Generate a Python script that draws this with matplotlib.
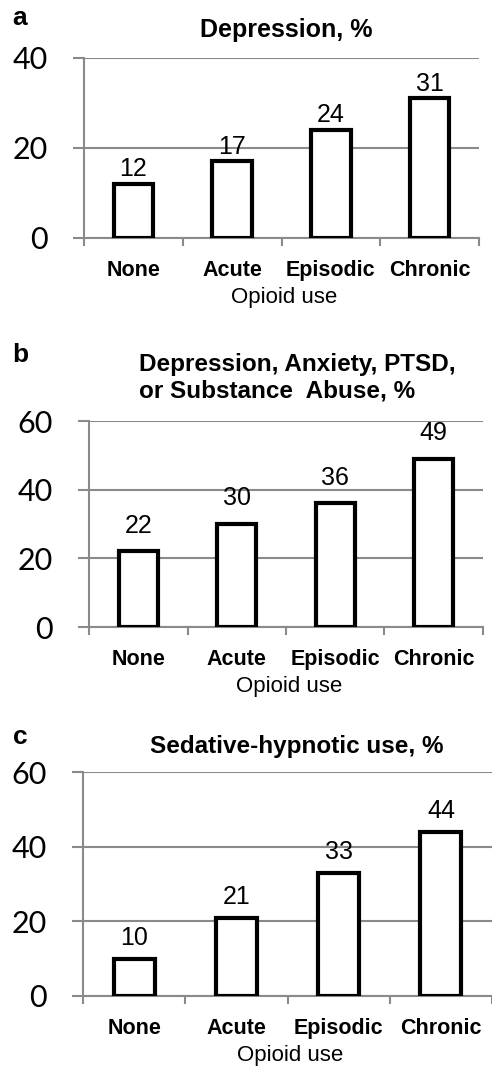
import matplotlib.pyplot as plt

# Data
categories = ["None", "Acute", "Episodic", "Chronic"]
depression = [12, 17, 24, 31]
any_mental = [22, 30, 36, 49]
sedative = [10, 21, 33, 44]

panel_letters = ["a", "b", "c"]
grid_gray = "#8a8a8a"

fig = plt.figure(figsize=(4.92, 10.7), dpi=100)

# axes boxes in figure fraction (left, bottom, width, height)
ax_a = fig.add_axes([0.1707, 0.7776, 0.803, 0.1682])
ax_b = fig.add_axes([0.1809, 0.4140, 0.8008, 0.1925])
ax_c = fig.add_axes([0.1687, 0.0692, 0.8313, 0.2093])

panels = [
    (ax_a, depression, 40, [0, 20, 40], 2),
    (ax_b, any_mental, 60, [0, 20, 40, 60], 10),
    (ax_c, sedative, 60, [0, 20, 40, 60], 6),
]

for ax, values, ymax, yticks, label_pad in panels:
    x = range(len(categories))
    bars = ax.bar(x, values, width=0.4, color="white", edgecolor="black",
                  linewidth=3, zorder=3)
    ax.bar_label(bars, labels=[str(v) for v in values], padding=label_pad,
                 fontsize=18, family="Liberation Sans")

    ax.set_xlim(-0.5, len(categories) - 0.5)
    ax.set_ylim(0, ymax)
    ax.set_yticks(yticks)
    ax.set_yticklabels([str(t) for t in yticks], fontsize=22, family="Lato")
    ax.tick_params(axis="y", length=8, width=1.5, color=grid_gray, pad=18)
    ax.yaxis.grid(True, color=grid_gray, linewidth=1.5, zorder=0)

    # boundary ticks on x, labels in the middle of each slot
    ax.set_xticks([i - 0.5 for i in range(len(categories) + 1)])
    ax.set_xticklabels([])
    ax.tick_params(axis="x", which="major", length=6, width=1.5,
                   color=grid_gray)
    ax.set_xticks(list(x), minor=True)
    ax.set_xticklabels(categories, minor=True, fontsize=15.5,
                       fontweight="bold", family="Liberation Sans")
    ax.tick_params(axis="x", which="minor", length=0, pad=16)

    for side in ["top", "right"]:
        ax.spines[side].set_visible(False)
    ax.spines["left"].set_color(grid_gray)
    ax.spines["left"].set_linewidth(1.5)
    ax.spines["bottom"].set_color(grid_gray)
    ax.spines["bottom"].set_linewidth(1.5)
    ax.set_axisbelow(True)

    ax.annotate("Opioid use", xy=(0.5, 0), xycoords="axes fraction",
                xytext=(2, -43), textcoords="offset points",
                ha="center", va="center", fontsize=16,
                family="Liberation Sans")

# titles and panel letters
fig.text(286 / 492, 1 - 30 / 1070, "Depression, %", ha="center",
         va="center", fontsize=18, fontweight="bold", family="Liberation Sans")
fig.text(139 / 492, 1 - 378 / 1070,
         "Depression, Anxiety, PTSD,\nor Substance  Abuse, %", ha="left",
         va="center", fontsize=17.5, fontweight="bold",
         family="Liberation Sans", linespacing=1.2)
fig.text(297 / 492, 1 - 747 / 1070, "Sedative-hypnotic use, %",
         ha="center", va="center", fontsize=17.5, fontweight="bold",
         family="Liberation Sans")

letter_y = [18, 355, 737]
for letter, py in zip(panel_letters, letter_y):
    fig.text(20 / 492, 1 - py / 1070, letter, ha="center", va="center",
             fontsize=19, fontweight="bold", family="Liberation Sans")

fig.savefig("out.png", dpi=100)
